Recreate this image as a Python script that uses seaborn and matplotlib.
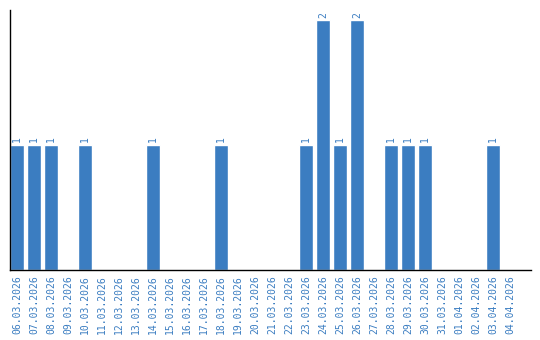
import matplotlib
matplotlib.use("Agg")
import matplotlib.pyplot as plt
import seaborn as sns
import pandas as pd

dates = ["06.03.2026", "07.03.2026", "08.03.2026", "09.03.2026", "10.03.2026",
         "11.03.2026", "12.03.2026", "13.03.2026", "14.03.2026", "15.03.2026",
         "16.03.2026", "17.03.2026", "18.03.2026", "19.03.2026", "20.03.2026",
         "21.03.2026", "22.03.2026", "23.03.2026", "24.03.2026", "25.03.2026",
         "26.03.2026", "27.03.2026", "28.03.2026", "29.03.2026", "30.03.2026",
         "31.03.2026", "01.04.2026", "02.04.2026", "03.04.2026", "04.04.2026"]
counts = [1, 1, 1, 0, 1,
          0, 0, 0, 1, 0,
          0, 0, 1, 0, 0,
          0, 0, 1, 2, 1,
          2, 0, 1, 1, 1,
          0, 0, 0, 1, 0]

BLUE = "#3b7dc1"
df = pd.DataFrame({"date": dates, "count": counts})

sns.set_style("white")
fig = plt.figure(figsize=(5.4, 3.4), dpi=100)
ax = fig.add_axes([10/540, 1 - 270/340, (531 - 10)/540, (270 - 10)/340])

sns.barplot(data=df, x="date", y="count", color=BLUE, saturation=1,
            width=14/17, ax=ax, order=dates)

ax.set_xlim(-7/17, (531 - 17)/17)
ax.set_ylim(0, 2.08)
ax.set_xlabel("")
ax.set_ylabel("")
ax.set_yticks([])
ax.tick_params(axis="x", length=0, pad=4)
ax.set_xticks(range(len(dates)))
ax.set_xticklabels(dates, rotation=90, fontsize=7, color=BLUE,
                   family="DejaVu Sans Mono")

for s in ["top", "right"]:
    ax.spines[s].set_visible(False)
for s in ["left", "bottom"]:
    ax.spines[s].set_color("black")
    ax.spines[s].set_linewidth(1)

for i, v in enumerate(counts):
    if v > 0:
        ax.text(i, v + 0.02, str(v), rotation=90, ha="center", va="bottom",
                fontsize=7, color=BLUE, family="DejaVu Sans Mono")

fig.savefig("out.png", dpi=100)
